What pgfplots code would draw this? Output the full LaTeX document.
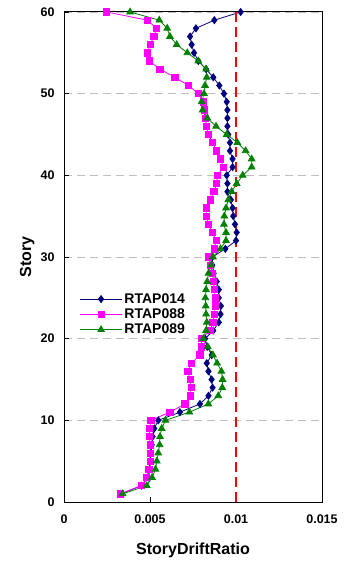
\documentclass[border=0pt]{standalone}
\usepackage{fontspec}
\setmainfont{Liberation Sans}
\usepackage{pgfplots}
\usepackage{pgfplotstable}
\pgfplotsset{compat=1.18}
\definecolor{navyc}{RGB}{0,0,128}
\definecolor{magc}{RGB}{255,0,255}
\definecolor{grnc}{RGB}{0,128,0}
\definecolor{gridc}{RGB}{190,190,190}

\pgfplotstableread{
story r014 r088 r089
1 0.00330 0.00326 0.00341
2 0.00450 0.00452 0.00481
3 0.00490 0.00481 0.00512
4 0.00498 0.00494 0.00532
5 0.00502 0.00500 0.00540
6 0.00506 0.00500 0.00548
7 0.00510 0.00500 0.00556
8 0.00515 0.00497 0.00558
9 0.00525 0.00497 0.00568
10 0.00548 0.00505 0.00590
11 0.00674 0.00616 0.00729
12 0.00790 0.00703 0.00839
13 0.00840 0.00733 0.00897
14 0.00864 0.00740 0.00920
15 0.00858 0.00733 0.00922
16 0.00840 0.00720 0.00915
17 0.00830 0.00742 0.00890
18 0.00859 0.00790 0.00866
19 0.00833 0.00800 0.00836
20 0.00820 0.00800 0.00810
21 0.00868 0.00849 0.00826
22 0.00900 0.00866 0.00830
23 0.00910 0.00875 0.00826
24 0.00912 0.00878 0.00824
25 0.00900 0.00878 0.00822
26 0.00900 0.00875 0.00826
27 0.00888 0.00868 0.00833
28 0.00870 0.00864 0.00840
29 0.00862 0.00849 0.00855
30 0.00862 0.00840 0.00866
31 0.00938 0.00874 0.00910
32 0.01000 0.00884 0.00942
33 0.01004 0.00864 0.00942
34 0.00994 0.00840 0.00930
35 0.00984 0.00830 0.00932
36 0.00980 0.00830 0.00942
37 0.00970 0.00849 0.00955
38 0.00950 0.00872 0.00975
39 0.00950 0.00888 0.01004
40 0.00946 0.00893 0.01039
41 0.00980 0.00926 0.01091
42 0.00980 0.00910 0.01091
43 0.00965 0.00888 0.01056
44 0.00965 0.00864 0.01008
45 0.00955 0.00840 0.00946
46 0.00950 0.00830 0.00884
47 0.00950 0.00820 0.00833
48 0.00950 0.00814 0.00806
49 0.00946 0.00810 0.00800
50 0.00930 0.00781 0.00814
51 0.00903 0.00723 0.00820
52 0.00868 0.00645 0.00830
53 0.00826 0.00558 0.00826
54 0.00781 0.00496 0.00781
55 0.00756 0.00486 0.00717
56 0.00742 0.00500 0.00655
57 0.00733 0.00523 0.00616
58 0.00767 0.00539 0.00600
59 0.00874 0.00484 0.00554
60 0.01027 0.00248 0.00384
}\drift

\begin{document}
\begin{tikzpicture}
\begin{axis}[
  scale only axis, width=258pt, height=490pt,
  xmin=0, xmax=0.015, ymin=0, ymax=60,
  scaled x ticks=false,
  xtick={0,0.005,0.01,0.015}, xticklabels={0,0.005,0.01,0.015},
  ytick={0,10,...,60},
  tick pos=left, tick align=inside, major tick length=5pt,
  tick style={black, line width=0.8pt},
  axis line style={black, line width=1pt},
  ymajorgrids, grid style={gridc, line width=0.8pt, dash pattern=on 8pt off 5pt},
  /pgf/number format/assume math mode=true,
  ticklabel style={font=\bfseries\fontsize{12.5}{14}\selectfont},
  yticklabel style={xshift=-6pt},
  xticklabel style={yshift=-9pt},
  xlabel={StoryDriftRatio}, ylabel={Story},
  label style={font=\bfseries\fontsize{16}{18}\selectfont},
  every axis x label/.append style={at={(axis description cs:0.5,-0.098)}, anchor=center},
  every axis y label/.append style={at={(axis description cs:-0.143,0.5)}, anchor=center},
  legend cell align=left,
  legend style={at={(axis description cs:0.06,0.43)}, anchor=north west, draw=none, fill=none,
    font=\bfseries\fontsize{14}{16}\selectfont, row sep=0pt, inner sep=0pt},
  legend image code/.code={\draw[mark repeat=2,mark phase=2,#1] plot coordinates {(0pt,0pt)(21pt,0pt)(42pt,0pt)};},
]
\addplot[navyc, line width=0.8pt, mark=diamond*, mark size=3.5pt, mark options={solid, fill=navyc}] table[x=r014, y=story] {\drift};
\addlegendentry{RTAP014}
\addplot[magc, line width=0.8pt, mark=square*, mark size=3.1pt, mark options={solid, fill=magc}] table[x=r088, y=story] {\drift};
\addlegendentry{RTAP088}
\addplot[grnc, line width=0.8pt, mark=triangle*, mark size=3.8pt, mark options={solid, fill=grnc}] table[x=r089, y=story] {\drift};
\addlegendentry{RTAP089}
\addplot[red, line width=2.6pt, dash pattern=on 10pt off 5pt, forget plot] coordinates {(0.01,0) (0.01,60)};
\end{axis}
\pgfresetboundingbox
\path[use as bounding box] (-64pt,-63pt) rectangle (282pt,502pt);
\end{tikzpicture}
\end{document}
